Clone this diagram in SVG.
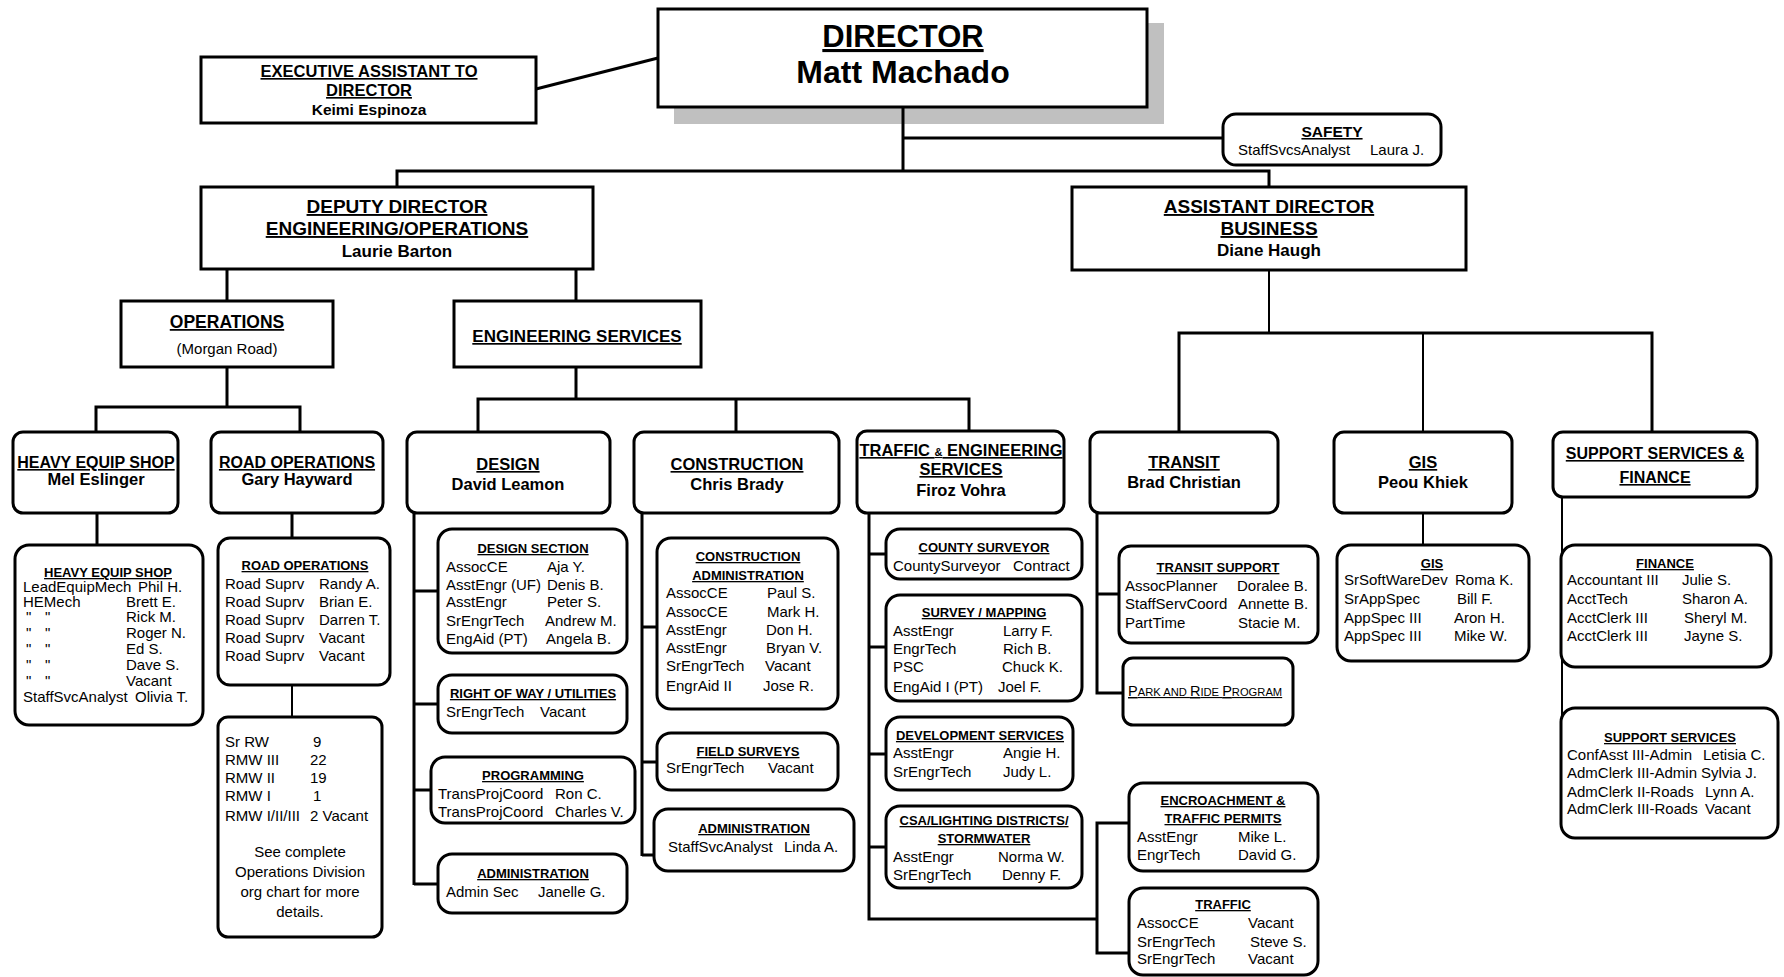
<svg xmlns="http://www.w3.org/2000/svg" width="1784" height="977" viewBox="0 0 1784 977">
<style>
text{font-family:"Liberation Sans",Arial,sans-serif;fill:#000}
.b{fill:#fff;stroke:#000;stroke-width:3}
.ln{fill:none;stroke:#000;stroke-width:3}
.lt{fill:none;stroke:#000;stroke-width:2}
.h{font-weight:bold;text-anchor:middle;text-decoration:underline}
.n{font-weight:bold;text-anchor:middle}
.s{font-weight:bold;text-anchor:middle;text-decoration:underline;font-size:13px}
.r{font-size:15px}
.c{font-size:15px;text-anchor:middle}
</style>
<rect x="674" y="23" width="490" height="101" fill="#c0c0c0"/>
<g id="connectors">
<path class="ln" d="M536,89 L658,58"/>
<path class="ln" d="M903,107 V171 M903,138 H1223 M397,187 V171 H1269 V187"/>
<path class="ln" d="M227,269 V301 M576,269 V301"/>
<path class="ln" d="M227,367 V407 M96,432 V407 H300 V432"/>
<path class="ln" d="M576,367 V399 M478,432 V399 H969 V432 M736,399 V432"/>
<path class="lt" d="M1269,270 V333"/>
<path class="ln" d="M1179,432 V333 H1652 V432"/>
<path class="lt" d="M1423,333 V432"/>
<path class="ln" d="M97,513 V545 M292,513 V538"/>
<path class="lt" d="M292,685 V717"/>
<path class="ln" d="M414,513 V885 M414,591 H438 M414,704 H438 M414,790 H431 M414,884 H438"/>
<path class="ln" d="M642,513 V856 M642,627 H657 M642,762 H657 M642,855 H654"/>
<path class="ln" d="M869,513 V919 H1097 M869,554 H886 M869,647 H886 M869,754 H886 M869,847 H886 M1129,823 H1097 V953 H1129"/>
<path class="ln" d="M1097,513 V693 H1123 M1097,594 H1119"/>
<path class="lt" d="M1423,513 V545"/>
<path class="lt" d="M1562,498 V770"/>
</g>
<g id="director">
<rect class="b" x="658" y="9" width="489" height="98"/>
<text class="h" x="903" y="47" font-size="31">DIRECTOR</text>
<text class="n" x="903" y="83" font-size="32">Matt Machado</text>
</g>
<g id="exec-assistant">
<rect class="b" x="201" y="57" width="335" height="66"/>
<text class="h" x="369" y="77" font-size="16.5">EXECUTIVE ASSISTANT TO</text>
<text class="h" x="369" y="96" font-size="16.5">DIRECTOR</text>
<text class="n" x="369" y="115" font-size="15.5">Keimi Espinoza</text>
</g>
<g id="safety">
<rect class="b" x="1223" y="114" width="218" height="51" rx="13"/>
<text class="h" x="1332" y="137" font-size="15.5">SAFETY</text>
<text class="r" x="1238" y="155" font-size="14.5">StaffSvcsAnalyst</text>
<text class="r" x="1370" y="155" font-size="14.5">Laura J.</text>
</g>
<g id="deputy-director">
<rect class="b" x="201" y="187" width="392" height="82"/>
<text class="h" x="397" y="213" font-size="19">DEPUTY DIRECTOR</text>
<text class="h" x="397" y="235" font-size="19">ENGINEERING/OPERATIONS</text>
<text class="n" x="397" y="257" font-size="17">Laurie Barton</text>
</g>
<g id="assistant-director">
<rect class="b" x="1072" y="187" width="394" height="83" stroke-width="4"/>
<text class="h" x="1269" y="213" font-size="19">ASSISTANT DIRECTOR</text>
<text class="h" x="1269" y="235" font-size="19">BUSINESS</text>
<text class="n" x="1269" y="256" font-size="17">Diane Haugh</text>
</g>
<g id="operations">
<rect class="b" x="121" y="301" width="212" height="66"/>
<text class="h" x="227" y="328" font-size="17.5">OPERATIONS</text>
<text class="c" x="227" y="354" font-size="15.5">(Morgan Road)</text>
</g>
<g id="engineering-services">
<rect class="b" x="454" y="301" width="247" height="66"/>
<text class="h" x="577" y="342" font-size="17">ENGINEERING SERVICES</text>
</g>
<g id="heavy-equip-shop">
<rect class="b" x="13" y="432" width="165" height="81" rx="10"/>
<text class="h" x="96" y="468" font-size="16">HEAVY EQUIP SHOP</text>
<text class="n" x="96" y="485" font-size="16.5">Mel Eslinger</text>
</g>
<g id="road-operations">
<rect class="b" x="211" y="432" width="172" height="81" rx="10"/>
<text class="h" x="297" y="468" font-size="16">ROAD OPERATIONS</text>
<text class="n" x="297" y="485" font-size="16.5">Gary Hayward</text>
</g>
<g id="design">
<rect class="b" x="407" y="432" width="203" height="81" rx="10"/>
<text class="h" x="508" y="470" font-size="16.5">DESIGN</text>
<text class="n" x="508" y="490" font-size="16.5">David Leamon</text>
</g>
<g id="construction">
<rect class="b" x="634" y="432" width="205" height="81" rx="10"/>
<text class="h" x="737" y="470" font-size="16.5">CONSTRUCTION</text>
<text class="n" x="737" y="490" font-size="16.5">Chris Brady</text>
</g>
<g id="traffic-engineering">
<rect class="b" x="857" y="431" width="207" height="82" rx="10"/>
<text class="h" x="961" y="456" font-size="16.5">TRAFFIC <tspan font-size="11">&amp;</tspan> ENGINEERING</text>
<text class="h" x="961" y="475" font-size="16.5">SERVICES</text>
<text class="n" x="961" y="496" font-size="16.5">Firoz Vohra</text>
</g>
<g id="transit">
<rect class="b" x="1090" y="432" width="188" height="81" rx="10"/>
<text class="h" x="1184" y="468" font-size="16.5">TRANSIT</text>
<text class="n" x="1184" y="488" font-size="16.5">Brad Christian</text>
</g>
<g id="gis">
<rect class="b" x="1334" y="432" width="178" height="81" rx="10"/>
<text class="h" x="1423" y="468" font-size="16.5">GIS</text>
<text class="n" x="1423" y="488" font-size="16.5">Peou Khiek</text>
</g>
<g id="support-finance">
<rect class="b" x="1553" y="432" width="204" height="65" rx="10"/>
<text class="h" x="1655" y="459" font-size="16">SUPPORT SERVICES &amp;</text>
<text class="h" x="1655" y="483" font-size="16">FINANCE</text>
</g>
<g id="heavy-equip-detail">
<rect class="b" x="15" y="545" width="188" height="180" rx="14"/>
<text class="s" x="108" y="577">HEAVY EQUIP SHOP</text>
<g class="r" font-size="14">
<text x="23" y="592">LeadEquipMech</text><text x="138" y="592">Phil H.</text>
<text x="23" y="607">HEMech</text><text x="126" y="607">Brett E.</text>
<text x="26" y="622">"</text><text x="45" y="622">"</text><text x="126" y="622">Rick M.</text>
<text x="26" y="638">"</text><text x="45" y="638">"</text><text x="126" y="638">Roger N.</text>
<text x="26" y="654">"</text><text x="45" y="654">"</text><text x="126" y="654">Ed S.</text>
<text x="26" y="670">"</text><text x="45" y="670">"</text><text x="126" y="670">Dave S.</text>
<text x="26" y="686">"</text><text x="45" y="686">"</text><text x="126" y="686">Vacant</text>
<text x="23" y="702">StaffSvcAnalyst</text><text x="135" y="702">Olivia T.</text>
</g>
</g>
<g id="road-operations-detail">
<rect class="b" x="218" y="538" width="172" height="147" rx="12"/>
<text class="s" x="305" y="570">ROAD OPERATIONS</text>
<g class="r">
<text x="225" y="589">Road Suprv</text><text x="319" y="589">Randy A.</text>
<text x="225" y="607">Road Suprv</text><text x="319" y="607">Brian E.</text>
<text x="225" y="625">Road Suprv</text><text x="319" y="625">Darren T.</text>
<text x="225" y="643">Road Suprv</text><text x="319" y="643">Vacant</text>
<text x="225" y="661">Road Suprv</text><text x="319" y="661">Vacant</text>
</g>
</g>
<g id="road-operations-staff">
<rect class="b" x="218" y="717" width="164" height="220" rx="10"/>
<g class="r">
<text x="225" y="747">Sr RW</text><text x="313" y="747">9</text>
<text x="225" y="765">RMW III</text><text x="310" y="765">22</text>
<text x="225" y="783">RMW II</text><text x="310" y="783">19</text>
<text x="225" y="801">RMW I</text><text x="313" y="801">1</text>
<text x="225" y="821">RMW I/II/III</text><text x="310" y="821">2 Vacant</text>
</g>
<g class="c" font-size="16">
<text x="300" y="857">See complete</text>
<text x="300" y="877">Operations Division</text>
<text x="300" y="897">org chart for more</text>
<text x="300" y="917">details.</text>
</g>
</g>
<g id="design-section">
<rect class="b" x="438" y="529" width="189" height="124" rx="14"/>
<text class="s" x="533" y="553">DESIGN SECTION</text>
<g class="r">
<text x="446" y="572">AssocCE</text><text x="547" y="572">Aja Y.</text>
<text x="446" y="590">AsstEngr (UF)</text><text x="547" y="590">Denis B.</text>
<text x="446" y="607">AsstEngr</text><text x="547" y="607">Peter S.</text>
<text x="446" y="626">SrEngrTech</text><text x="545" y="626">Andrew M.</text>
<text x="446" y="644">EngAid (PT)</text><text x="546" y="644">Angela B.</text>
</g>
</g>
<g id="right-of-way">
<rect class="b" x="438" y="675" width="189" height="58" rx="14"/>
<text class="s" x="533" y="698">RIGHT OF WAY / UTILITIES</text>
<text class="r" x="446" y="717">SrEngrTech</text><text class="r" x="540" y="717">Vacant</text>
</g>
<g id="programming">
<rect class="b" x="431" y="757" width="204" height="66" rx="14"/>
<text class="s" x="533" y="780">PROGRAMMING</text>
<text class="r" x="438" y="799">TransProjCoord</text><text class="r" x="555" y="799">Ron C.</text>
<text class="r" x="438" y="817">TransProjCoord</text><text class="r" x="555" y="817">Charles V.</text>
</g>
<g id="design-administration">
<rect class="b" x="438" y="854" width="189" height="59" rx="14"/>
<text class="s" x="533" y="878">ADMINISTRATION</text>
<text class="r" x="446" y="897">Admin Sec</text><text class="r" x="538" y="897">Janelle G.</text>
</g>
<g id="construction-administration">
<rect class="b" x="657" y="538" width="181" height="171" rx="14"/>
<text class="s" x="748" y="561">CONSTRUCTION</text>
<text class="s" x="748" y="580">ADMINISTRATION</text>
<g class="r">
<text x="666" y="598">AssocCE</text><text x="767" y="598">Paul S.</text>
<text x="666" y="617">AssocCE</text><text x="767" y="617">Mark H.</text>
<text x="666" y="635">AsstEngr</text><text x="766" y="635">Don H.</text>
<text x="666" y="653">AsstEngr</text><text x="766" y="653">Bryan V.</text>
<text x="666" y="671">SrEngrTech</text><text x="765" y="671">Vacant</text>
<text x="666" y="691">EngrAid II</text><text x="763" y="691">Jose R.</text>
</g>
</g>
<g id="field-surveys">
<rect class="b" x="657" y="733" width="181" height="57" rx="14"/>
<text class="s" x="748" y="756">FIELD SURVEYS</text>
<text class="r" x="666" y="773">SrEngrTech</text><text class="r" x="768" y="773">Vacant</text>
</g>
<g id="construction-administration-2">
<rect class="b" x="654" y="809" width="200" height="62" rx="14"/>
<text class="s" x="754" y="833">ADMINISTRATION</text>
<text class="r" x="668" y="852">StaffSvcAnalyst</text><text class="r" x="784" y="852">Linda A.</text>
</g>
<g id="county-surveyor">
<rect class="b" x="886" y="529" width="196" height="50" rx="14"/>
<text class="s" x="984" y="552">COUNTY SURVEYOR</text>
<text class="r" x="893" y="571">CountySurveyor</text><text class="r" x="1013" y="571">Contract</text>
</g>
<g id="survey-mapping">
<rect class="b" x="886" y="595" width="196" height="106" rx="14"/>
<text class="s" x="984" y="617">SURVEY / MAPPING</text>
<g class="r">
<text x="893" y="636">AsstEngr</text><text x="1003" y="636">Larry F.</text>
<text x="893" y="654">EngrTech</text><text x="1003" y="654">Rich B.</text>
<text x="893" y="672">PSC</text><text x="1002" y="672">Chuck K.</text>
<text x="893" y="692">EngAid I (PT)</text><text x="998" y="692">Joel F.</text>
</g>
</g>
<g id="development-services">
<rect class="b" x="886" y="717" width="187" height="73" rx="14"/>
<text class="s" x="980" y="740">DEVELOPMENT SERVICES</text>
<text class="r" x="893" y="758">AsstEngr</text><text class="r" x="1003" y="758">Angie H.</text>
<text class="r" x="893" y="777">SrEngrTech</text><text class="r" x="1003" y="777">Judy L.</text>
</g>
<g id="csa-lighting">
<rect class="b" x="886" y="806" width="196" height="82" rx="14"/>
<text class="s" x="984" y="825">CSA/LIGHTING DISTRICTS/</text>
<text class="s" x="984" y="843">STORMWATER</text>
<text class="r" x="893" y="862">AsstEngr</text><text class="r" x="998" y="862">Norma W.</text>
<text class="r" x="893" y="880">SrEngrTech</text><text class="r" x="1002" y="880">Denny F.</text>
</g>
<g id="encroachment">
<rect class="b" x="1129" y="783" width="189" height="88" rx="14"/>
<text class="s" x="1223" y="805">ENCROACHMENT &amp;</text>
<text class="s" x="1223" y="823">TRAFFIC PERMITS</text>
<text class="r" x="1137" y="842">AsstEngr</text><text class="r" x="1238" y="842">Mike L.</text>
<text class="r" x="1137" y="860">EngrTech</text><text class="r" x="1238" y="860">David G.</text>
</g>
<g id="traffic">
<rect class="b" x="1129" y="888" width="189" height="87" rx="14"/>
<text class="s" x="1223" y="909">TRAFFIC</text>
<text class="r" x="1137" y="928">AssocCE</text><text class="r" x="1248" y="928">Vacant</text>
<text class="r" x="1137" y="947">SrEngrTech</text><text class="r" x="1250" y="947">Steve S.</text>
<text class="r" x="1137" y="964">SrEngrTech</text><text class="r" x="1248" y="964">Vacant</text>
</g>
<g id="transit-support">
<rect class="b" x="1119" y="546" width="199" height="97" rx="12"/>
<text class="s" x="1218" y="572">TRANSIT SUPPORT</text>
<text class="r" x="1125" y="591">AssocPlanner</text><text class="r" x="1237" y="591">Doralee B.</text>
<text class="r" x="1125" y="609">StaffServCoord</text><text class="r" x="1238" y="609">Annette B.</text>
<text class="r" x="1125" y="628">PartTime</text><text class="r" x="1238" y="628">Stacie M.</text>
</g>
<g id="park-and-ride">
<rect class="b" x="1123" y="658" width="170" height="67" rx="10"/>
<text x="1128" y="696" font-size="14.5" text-decoration="underline">P<tspan font-size="11.2">ARK AND </tspan>R<tspan font-size="11.2">IDE </tspan>P<tspan font-size="11.2">ROGRAM</tspan></text>
</g>
<g id="gis-detail">
<rect class="b" x="1337" y="545" width="192" height="116" rx="14"/>
<text class="s" x="1432" y="568">GIS</text>
<g class="r">
<text x="1344" y="585">SrSoftWareDev</text><text x="1455" y="585">Roma K.</text>
<text x="1344" y="604">SrAppSpec</text><text x="1457" y="604">Bill F.</text>
<text x="1344" y="623">AppSpec III</text><text x="1454" y="623">Aron H.</text>
<text x="1344" y="641">AppSpec III</text><text x="1454" y="641">Mike W.</text>
</g>
</g>
<g id="finance">
<rect class="b" x="1561" y="545" width="210" height="122" rx="14"/>
<text class="s" x="1665" y="568">FINANCE</text>
<g class="r">
<text x="1567" y="585">Accountant III</text><text x="1682" y="585">Julie S.</text>
<text x="1567" y="604">AcctTech</text><text x="1682" y="604">Sharon A.</text>
<text x="1567" y="623">AcctClerk III</text><text x="1684" y="623">Sheryl M.</text>
<text x="1567" y="641">AcctClerk III</text><text x="1684" y="641">Jayne S.</text>
</g>
</g>
<g id="support-services">
<rect class="b" x="1561" y="708" width="217" height="130" rx="14"/>
<text class="s" x="1670" y="742">SUPPORT SERVICES</text>
<g class="r">
<text x="1567" y="760">ConfAsst III-Admin</text><text x="1703" y="760">Letisia C.</text>
<text x="1567" y="778">AdmClerk III-Admin</text><text x="1701" y="778">Sylvia J.</text>
<text x="1567" y="797">AdmClerk II-Roads</text><text x="1705" y="797">Lynn A.</text>
<text x="1567" y="814">AdmClerk III-Roads</text><text x="1705" y="814">Vacant</text>
</g>
</g>
</svg>
